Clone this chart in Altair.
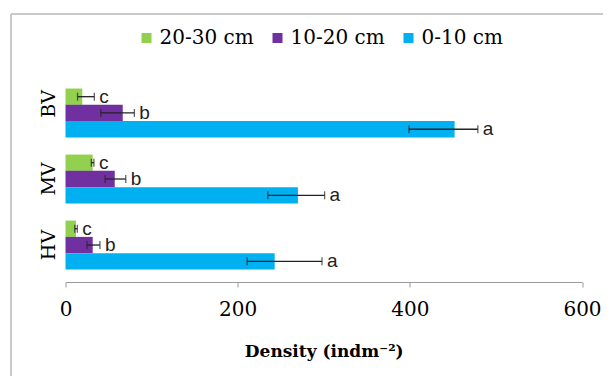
import altair as alt
import pandas as pd

sites = ["BV", "MV", "HV"]
depths = ["20-30 cm", "10-20 cm", "0-10 cm"]
colors = ["#92D050", "#7030A0", "#00B0F0"]

mean_2030 = [19.5, 31.6, 12.2]
mean_1020 = [66.5, 57.2, 31.6]
mean_010 = [452, 270, 243]

lo_2030 = [14, 30, 10.7]
hi_2030 = [33.5, 33, 13.7]
lo_1020 = [41, 46, 25]
hi_1020 = [80, 70, 40]
lo_010 = [399, 235, 211]
hi_010 = [479, 301, 298]

letters = {"20-30 cm": "c", "10-20 cm": "b", "0-10 cm": "a"}

rows = []
for d, m, lo, hi in [
    ("20-30 cm", mean_2030, lo_2030, hi_2030),
    ("10-20 cm", mean_1020, lo_1020, hi_1020),
    ("0-10 cm", mean_010, lo_010, hi_010),
]:
    for s, mv, l, h in zip(sites, m, lo, hi):
        rows.append({"site": s, "depth": d, "mean": mv, "lo": l, "hi": h, "letter": letters[d]})
df = pd.DataFrame(rows)

SERIF = "DejaVu Serif"
W, H = 516.5, 206

y_enc = alt.Y("site:N", sort=sites, title=None,
              scale=alt.Scale(paddingInner=0.26, paddingOuter=0.19),
              axis=alt.Axis(labelAngle=-90, labelAlign="center", labelBaseline="bottom",
                            labelFont=SERIF, labelFontSize=19, labelColor="#000",
                            labelOffset=alt.condition("datum.value == 'BV'", alt.value(-9), alt.value(0)),
                            ticks=False, domain=False, labelPadding=7))
yoff = alt.YOffset("depth:N", sort=depths, scale=alt.Scale(paddingInner=0, paddingOuter=0))

x_scale = alt.Scale(domain=[0, 600], nice=False)

base = alt.Chart(df)

bars = base.mark_bar(size=16.3).encode(
    x=alt.X("mean:Q", scale=x_scale, title="Density  (indm⁻²)",
            axis=alt.Axis(values=[0, 200, 400, 600], grid=False, domainColor="#9a9a9a",
                          tickColor="#9a9a9a", tickSize=5, labelFont=SERIF,
                          labelFontSize=20, labelColor="#000", labelPadding=12,
                          labelFlush=False,
                          titleFont=SERIF, titleFontSize=17, titleFontWeight="bold",
                          titleColor="#000", titlePadding=24)),
    y=y_enc,
    yOffset=yoff,
    color=alt.Color("depth:N", sort=depths,
                    scale=alt.Scale(domain=depths, range=colors),
                    legend=alt.Legend(title=None, orient="none", direction="horizontal",
                                      legendX=71, legendY=-48, symbolType="square",
                                      symbolSize=100, symbolStrokeWidth=0, symbolOpacity=1,
                                      labelFont=SERIF, labelFontSize=20,
                                      labelColor="#000", labelOffset=3, columnPadding=13)),
)

err = base.mark_rule(color="#222", strokeWidth=1.3).encode(
    x=alt.X("lo:Q", scale=x_scale), x2="hi:Q", y=y_enc, yOffset=yoff)

cap_lo = base.mark_tick(orient="vertical", size=8, thickness=1.3, color="#222").encode(
    x=alt.X("lo:Q", scale=x_scale), y=y_enc, yOffset=yoff)
cap_hi = base.mark_tick(orient="vertical", size=8, thickness=1.3, color="#222").encode(
    x=alt.X("hi:Q", scale=x_scale), y=y_enc, yOffset=yoff)

labels = base.mark_text(align="left", baseline="middle", dx=5, font="Liberation Sans",
                        fontSize=19, color="#222").encode(
    x=alt.X("hi:Q", scale=x_scale), y=y_enc, yOffset=yoff, text="letter:N")

frame_v = alt.Chart(df).mark_rule(color="#c8c8c8", strokeWidth=1.5).encode(
    x=alt.value(-54.5), y=alt.value(-62), y2=alt.value(400))
frame_h = alt.Chart(df).mark_rule(color="#c8c8c8", strokeWidth=1.5).encode(
    x=alt.value(-54.5), x2=alt.value(700), y=alt.value(-62))

chart = alt.layer(frame_v, frame_h, bars, err, cap_lo, cap_hi, labels).properties(
    width=W, height=H,
    autosize=alt.AutoSizeParams(type="none"),
    padding={"left": 57.5, "top": 68, "right": 21, "bottom": 94},
).configure_view(stroke=None)

chart.save("out.html", embed_options={"renderer": "svg", "actions": False})
